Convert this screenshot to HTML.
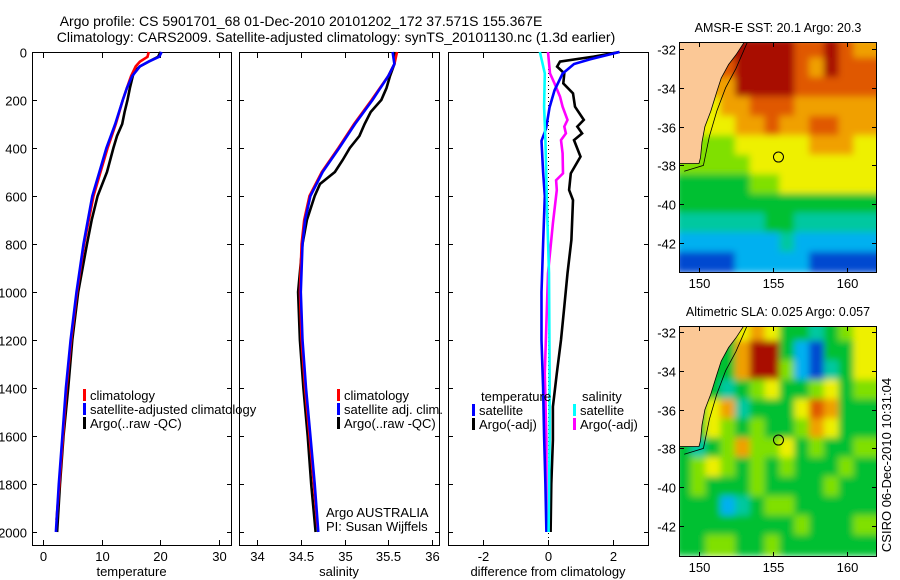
<!DOCTYPE html>
<html><head><meta charset="utf-8"><style>
html,body{margin:0;padding:0;background:#fff;}
svg{display:block;font-family:"Liberation Sans",sans-serif;}
</style></head><body>
<svg id="fig" width="900" height="580" viewBox="0 0 900 580" xmlns="http://www.w3.org/2000/svg">
<defs>
<filter id="blur" filterUnits="userSpaceOnUse" x="660" y="20" width="240" height="560"><feGaussianBlur stdDeviation="3.5"/></filter>
<clipPath id="clipM1"><rect x="679" y="42" width="198" height="231"/></clipPath>
<clipPath id="clipM2"><rect x="679" y="326" width="198" height="231"/></clipPath>
</defs>
<text x="301" y="26" font-size="14" text-anchor="middle">Argo profile: CS 5901701_68 01-Dec-2010 20101202_172 37.571S 155.367E</text>
<text x="336" y="42" font-size="14" text-anchor="middle">Climatology: CARS2009. Satellite-adjusted climatology: synTS_20101130.nc (1.3d earlier)</text>
<g id="g"></g>
</svg>
<script>
// ---- profile data ----
const tempClimDepth=[0,20,40,60,100,150,200,300,400,500,600,800,1000,1200,1400,1600,1800,1950];
const tempClim=[18,17.8,16.5,15.8,15,14.3,13.6,12.4,11,9.8,8.6,7,5.8,4.8,4,3.4,2.8,2.3];
const tempSatDepth=[0,20,40,60,100,150,200,300,400,500,600,800,1000,1200,1400,1600,1800,2000];
const tempSat=[20.2,19.8,18,16.5,15.2,14.3,13.6,12.3,10.8,9.6,8.4,6.9,5.7,4.7,3.9,3.3,2.7,2.2];
const tempArgoDepth=[0,20,40,60,80,100,150,200,250,300,350,400,500,600,700,800,1000,1200,1400,1600,1800,2000];
const tempArgo=[20,19.6,18,16.5,15.6,15.3,14.8,14.4,13.9,13.5,12.6,12,10.9,9.3,8.3,7.5,6,5,4.3,3.5,2.9,2.4];
const salClimDepth=[0,50,100,200,300,400,500,600,700,800,1000,1200,1400,1600,1800,1980];
const salClim=[35.6,35.57,35.5,35.31,35.11,34.93,34.74,34.6,34.54,34.51,34.49,34.51,34.55,34.6,34.65,34.69];
const salSatDepth=[0,50,100,200,300,400,500,600,700,800,1000,1200,1400,1600,1800,2000];
const salSat=[35.55,35.57,35.5,35.32,35.12,34.94,34.75,34.61,34.55,34.52,34.5,34.52,34.56,34.61,34.66,34.7];
const salArgoDepth=[0,50,100,150,200,250,300,350,400,450,500,550,600,700,800,1000,1200,1400,1600,1800,2000];
const salArgo=[35.58,35.57,35.52,35.48,35.42,35.3,35.23,35.17,35.06,34.98,34.89,34.72,34.66,34.57,34.52,34.47,34.49,34.53,34.58,34.62,34.67];
const dTsatDepth=[0,30,50,90,160,230,320,370,500,600,800,1000,1200,1400,1600,1800,2000];
const dTsat=[2.2,1.3,0.8,0.45,0.2,0.05,-0.06,-0.2,-0.15,-0.1,-0.15,-0.2,-0.2,-0.15,-0.12,-0.08,-0.05];
const dTargoDepth=[0,19,40,61,89,131,172,228,283,311,339,367,436,506,575,617,783,922,1061,1200,1339,1478,1617,1800,2000];
const dTargo=[2.2,1.4,0.37,0.28,0.5,0.47,0.77,0.83,1.1,0.9,1.05,0.8,1.0,0.7,0.65,0.77,0.72,0.6,0.5,0.4,0.27,0.15,0.15,0.1,0.08];
const dSargoDepth=[0,89,131,186,228,283,311,339,367,422,506,534,575,714,922,1339,1617,1800,2000];
const dSargo=[0,0.06,0.2,0.37,0.45,0.6,0.5,0.55,0.4,0.45,0.46,0.25,0.27,0.15,0.0,-0.1,-0.05,-0.05,-0.03];
const dSsatDepth=[0,89,228,367,644,922,1339,1617,2000];
const dSsat=[-0.25,-0.1,-0.12,-0.08,-0.03,0.03,0.05,0.05,0.02];
const depthTicks=[0,200,400,600,800,1000,1200,1400,1600,1800,2000];
const tempTicks=[0,10,20,30];
const salTicks=[34,34.5,35,35.5,36];
const diffTicks=[-2,0,2];
// ---- map data (jet colour index 0-9), rows lat -32..-43, cols lon 149..162 ----
const sstGrid=[
[9,9,9,9,9,9,9,9,8,8,9,8,7,7],
[8,8,8,8,9,9,9,9,8,7,9,8,8,8],
[7,7,7,7,9,9,9,9,8,8,8,8,8,8],
[6,6,6,7,7,8,8,8,7,7,7,7,7,7],
[6,6,6,6,7,7,8,7,7,8,8,7,7,7],
[5,5,5,5,6,6,6,6,6,7,7,7,6,6],
[5,5,5,5,5,6,6,6,6,6,6,6,6,6],
[4,4,4,4,4,5,5,6,6,6,6,6,6,6],
[4,4,4,4,4,4,4,4,4,4,4,4,4,4],
[3,3,3,3,3,3,4,4,3,3,3,3,3,3],
[2,2,2,2,2,2,2,3,2,2,2,2,2,2],
[1,1,1,1,2,2,2,2,2,1,1,1,1,1]];
const slaGrid=[
[4,4,4,4,6,7,6,4,4,3,4,5,6,6],
[4,4,4,4,7,9,9,4,2,1,4,4,6,6],
[4,4,4,4,7,9,9,5,2,1,3,4,6,6],
[4,4,4,3,4,5,6,4,4,5,6,4,5,5],
[4,4,6,7,3,4,4,4,6,8,7,4,4,4],
[4,4,6,5,4,5,4,4,5,7,6,4,4,4],
[4,3,4,5,7,5,5,6,4,5,4,4,5,5],
[4,5,6,5,4,5,4,5,4,4,4,5,4,4],
[4,5,4,4,4,5,4,4,4,4,5,4,4,4],
[4,4,4,2,3,4,5,5,4,4,4,4,4,4],
[4,4,4,4,4,4,4,4,5,4,4,4,5,5],
[4,4,5,5,4,4,5,4,4,4,4,4,4,4]];
const jet=["#00009a","#0048d0","#00b0f0","#00c8a0","#00c030","#80e000","#eef000","#f0a000","#e05800","#a80800"];
const mapLonTicks=[150,155,160];
const mapLatTicks=[-32,-34,-36,-38,-40,-42];
const argoLon=155.37, argoLat=-37.57;

const NS="http://www.w3.org/2000/svg";
const G=document.getElementById('g');
function mk(tag,attrs,parent){const e=document.createElementNS(NS,tag);for(const k in attrs)e.setAttribute(k,attrs[k]);(parent||G).appendChild(e);return e;}
function txt(x,y,s,size,anchor,parent){const t=mk('text',{x:x,y:y,'font-size':size,'text-anchor':anchor||'start'},parent);t.textContent=s;return t;}

const yD=d=>52+0.24*d;
const panels=[
 {x0:32,x1:231,sx:v=>43+5.87*v,ticks:tempTicks,lab:'temperature',name:'temperature-panel'},
 {x0:239,x1:439,sx:v=>257+87.5*(v-34),ticks:salTicks,lab:'salinity',name:'salinity-panel'},
 {x0:448,x1:648,sx:v=>548+32.5*v,ticks:diffTicks,lab:'difference from climatology',name:'difference-panel'}];
panels.forEach((p,i)=>{
 const g=mk('g',{});
 
 
 const r=mk('rect',{x:p.x0+0.5,y:52.5,width:p.x1-p.x0,height:493,fill:'none',stroke:'#000','stroke-width':1},g);
 
 
 depthTicks.forEach(d=>{const y=Math.round(yD(d))+0.5;
  mk('line',{x1:p.x0,x2:p.x0+5,y1:y,y2:y,stroke:'#000'},g);
  mk('line',{x1:p.x1-4,x2:p.x1+1,y1:y,y2:y,stroke:'#000'},g);
  if(i===0){const t=txt(p.x0-5,y+5,String(d),13,'end',g);
   
   }
 });
 p.ticks.forEach(v=>{const x=Math.round(p.sx(v))+0.5;
  mk('line',{x1:x,x2:x,y1:540,y2:546,stroke:'#000'},g);
  mk('line',{x1:x,x2:x,y1:52,y2:58,stroke:'#000'},g);
  const t=txt(x,561,String(v),13,'middle',g);
  
  
 });
 const xl=txt((p.x0+p.x1)/2,576,p.lab,13,'middle',g);
 
 
});
const zl=mk('line',{x1:548.5,x2:548.5,y1:53,y2:545,stroke:'#000','stroke-dasharray':'1,3'});



function series(p,vals,depths,color,name){
 const pts=vals.map((v,k)=>p.sx(v).toFixed(1)+','+yD(depths[k]).toFixed(1)).join(' ');
 const e=mk('polyline',{points:pts,fill:'none',stroke:color,'stroke-width':2.6,'stroke-linejoin':'miter'});
 
 
}
series(panels[0],tempArgo,tempArgoDepth,'#000','temp-argo-line');
series(panels[0],tempClim,tempClimDepth,'#f00','temp-climatology-line');
series(panels[0],tempSat,tempSatDepth,'#00f','temp-satellite-line');
series(panels[1],salArgo,salArgoDepth,'#000','salinity-argo-line');
series(panels[1],salClim,salClimDepth,'#f00','salinity-climatology-line');
series(panels[1],salSat,salSatDepth,'#00f','salinity-satellite-line');
series(panels[2],dTargo,dTargoDepth,'#000','temp-diff-argo-line');
series(panels[2],dSargo,dSargoDepth,'#f0f','sal-diff-argo-line');
series(panels[2],dTsat,dTsatDepth,'#00f','temp-diff-satellite-line');
series(panels[2],dSsat,dSsatDepth,'#0ff','sal-diff-satellite-line');

function legendEntry(x,y,color,label){
 const g=mk('g',{});
 
 
 if(color) mk('rect',{x:x,y:y-11,width:3,height:12,fill:color},g);
 txt(x+7,y,label,13,'start',g);
}
legendEntry(83,400,'#f00','climatology');
legendEntry(83,414,'#00f','satellite-adjusted climatology');
legendEntry(83,428,'#000','Argo(..raw -QC)');
legendEntry(337,400,'#f00','climatology');
legendEntry(337,414,'#00f','satellite adj. clim.');
legendEntry(337,428,'#000','Argo(..raw -QC)');
const a1=txt(326,517,'Argo AUSTRALIA',13);
const a2=txt(326,531,'PI: Susan Wijffels',13);
legendEntry(474,401,null,'temperature');
legendEntry(472,415,'#00f','satellite');
legendEntry(472,429,'#000','Argo(-adj)');
legendEntry(575,401,null,'salinity');
legendEntry(573,415,'#0ff','satellite');
legendEntry(573,429,'#f0f','Argo(-adj)');

// ---- maps ----
function drawMap(grid,top,latY0,title,clip,name){
 const lonX=l=>699+14.8*(l-150);
 const latY=l=>latY0+19.4*(-32-l);
 const g=mk('g',{});
 
 
 const cg=mk('g',{'clip-path':'url(#'+clip+')'},g);
 const hg=mk('g',{filter:'url(#blur)'},cg);
 grid.forEach((row,r)=>row.forEach((v,c)=>{
  const lat=-32-r, lon=149+c;
  const cell=mk('rect',{x:lonX(lon-0.5)-1,y:latY(lat+0.5)-1,width:16.8,height:21.4,fill:jet[v]},hg);
  
  
 }));
 const land=[[150,-37.9],[150.1,-37.6],[150.2,-36.8],[150.4,-36],[150.8,-35.2],[151.2,-34.2],[151.5,-33.5],[152,-32.8],[152.5,-32.3],[153.1,-31.6],[148,-31.6],[148,-37.9]];
 const lp=mk('polygon',{points:land.map(q=>lonX(q[0]).toFixed(1)+','+latY(q[1]).toFixed(1)).join(' '),fill:'#fbc896',stroke:'#000','stroke-width':0.8},cg);
 
 
 const shelf=[[149,-38.3],[150.3,-38],[150.7,-36.5],[151.2,-35.2],[151.8,-34],[152.5,-33],[153.3,-31.6]];
 mk('polyline',{points:shelf.map(q=>lonX(q[0]).toFixed(1)+','+latY(q[1]).toFixed(1)).join(' '),fill:'none',stroke:'#000','stroke-width':0.8},cg);
 const c=mk('circle',{cx:lonX(argoLon),cy:latY(argoLat),r:5,fill:'none',stroke:'#000','stroke-width':1},g);
 
 
 mk('rect',{x:679.5,y:top+0.5,width:197,height:230,fill:'none',stroke:'#000'},g);
 mapLonTicks.forEach(l=>{const x=Math.round(lonX(l))+0.5;
  mk('line',{x1:x,x2:x,y1:top+226,y2:top+231,stroke:'#000'},g);
  mk('line',{x1:x,x2:x,y1:top,y2:top+5,stroke:'#000'},g);
  const t=txt(x,top+246,String(l),13,'middle',g);
  });
 mapLatTicks.forEach(l=>{const y=Math.round(latY(l))+0.5;
  mk('line',{x1:679,x2:684,y1:y,y2:y,stroke:'#000'},g);
  mk('line',{x1:872,x2:877,y1:y,y2:y,stroke:'#000'},g);
  const t=txt(676,y+5,String(l),13,'end',g);
  });
 const tt=txt(778,top-10,title,12.5,'middle',g);
 
}
drawMap(sstGrid,42,49,'AMSR-E SST: 20.1 Argo: 20.3','clipM1','sst-map');
drawMap(slaGrid,326,332,'Altimetric SLA: 0.025 Argo: 0.057','clipM2','sla-map');
const st=txt(0,0,'CSIRO 06-Dec-2010 10:31:04',13,'middle');
st.setAttribute('transform','translate(891,465) rotate(-90)');


</script>
</body></html>
